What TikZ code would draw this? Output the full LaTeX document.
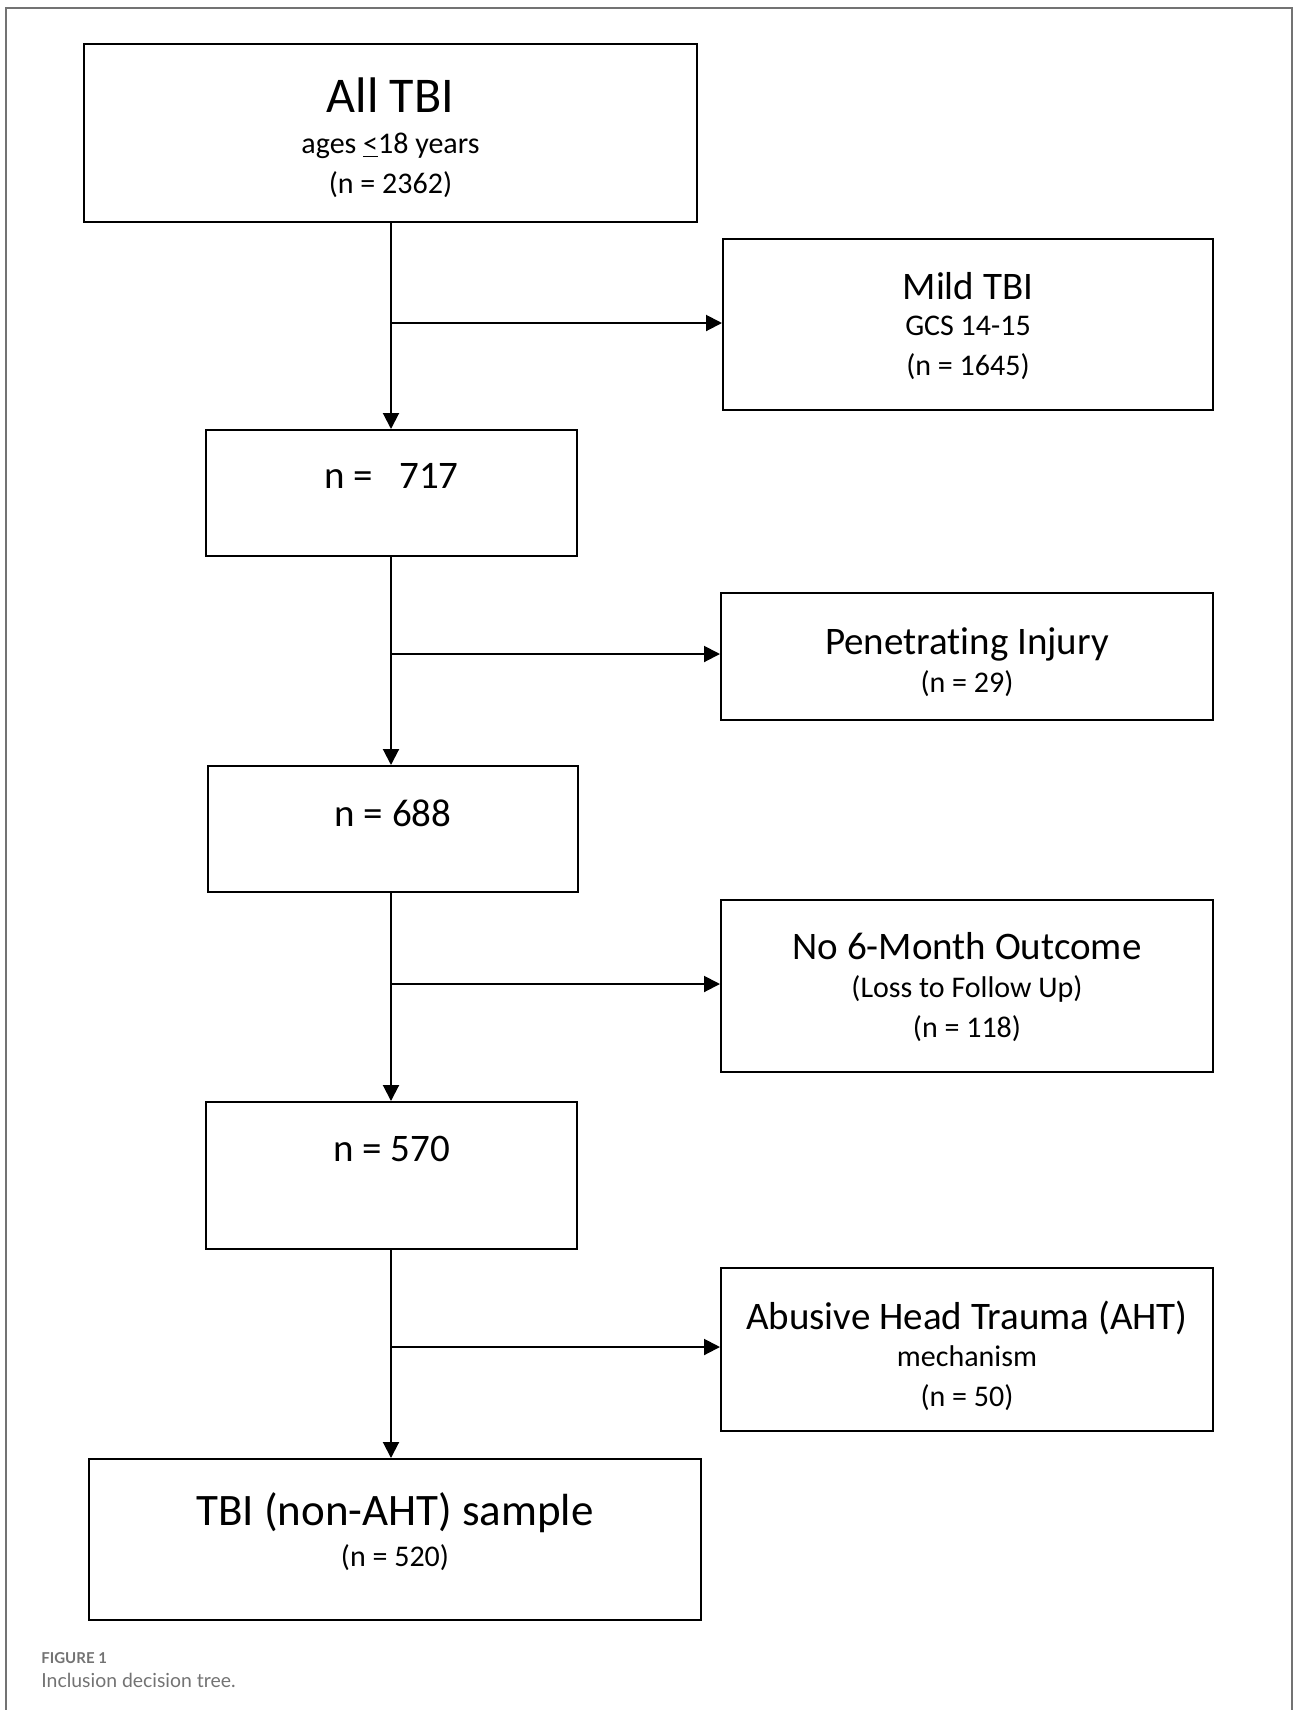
\documentclass[tikz,border=0pt]{standalone}
\usepackage{fontspec}
\setmainfont{Carlito}[Ligatures=CommonOff]
\newfontfamily\capfont{Lato}
\usetikzlibrary{positioning,arrows.meta,calc}

\tikzset{
  boxnode/.style={draw, line width=1pt, rectangle, inner sep=0pt},
  boxtxt/.style={inner sep=0pt, align=center, font=\fontsize{15}{20}\selectfont},
  numtxt/.style={anchor=base, inner sep=0pt, font=\fontsize{19.5}{22}\selectfont},
  arrowline/.style={line width=1pt, -{Triangle[length=8pt,width=8pt]}}
}
\newcommand{\sidetitle}{\fontsize{19.5}{22}\selectfont}

\begin{document}
\begin{tikzpicture}[x=0.5pt,y=-0.5pt]
\useasboundingbox (0,0) rectangle (1293,1710);
% outer frame, open at the bottom
\draw[black!55, line width=1pt] (5.5,1710) -- (5.5,7.5) -- (1292,7.5) -- (1292,1710);

% main column
\node[boxnode, minimum width=306.5pt, minimum height=89pt] (all) at (390.5,133) {};
\node[boxtxt] (alltxt) at ([yshift=-2.4pt]all.center)
  {{\fontsize{25}{26}\selectfont All TBI}\\[0.2pt] ages \underline{<}18 years\\ (n = 2362)};
\node[boxnode, minimum width=185.5pt, minimum height=63pt] (b717) at (391.5,493) {};
\node[numtxt] (t717) at ([yshift=-29.5pt]b717.north) {n =\ \ \ 717};
\node[boxnode, minimum width=185pt, minimum height=63pt] (b688) at (393,829) {};
\node[numtxt] (t688) at ([yshift=-30.5pt]b688.north) {n = 688};
\node[boxnode, minimum width=185.5pt, minimum height=73.5pt] (b570) at (391.5,1175.5) {};
\node[numtxt] (t570) at ([yshift=-30pt]b570.north) {n = 570};
\node[boxnode, minimum width=306pt, minimum height=80.5pt] (sample) at (395,1539.5) {};
\node[boxtxt] (sampletxt) at ([yshift=4pt]sample.center)
  {{\fontsize{22.5}{24}\selectfont TBI (non-AHT) sample}\\[0.4pt] (n = 520)};

% excluded boxes
\node[boxnode, minimum width=245pt, minimum height=85.5pt] (mild) at (968,324.5) {};
\node[boxtxt] (mildtxt) at ([yshift=-0.8pt]mild.center)
  {{\sidetitle Mild TBI}\\[-1.6pt] GCS 14-15\\ (n = 1645)};
\node[boxnode, minimum width=246pt, minimum height=63.5pt] (pen) at (967,656.5) {};
\node[boxtxt] (pentxt) at ([yshift=-2.7pt]pen.center)
  {{\sidetitle Penetrating Injury}\\[-1.1pt] (n = 29)};
\node[boxnode, minimum width=246pt, minimum height=86pt] (nofu) at (967,986) {};
\node[boxtxt] (nofutxt) at ([yshift=-0.5pt]nofu.center)
  {{\sidetitle No 6-Month Outcome}\\[-1.1pt] (Loss to Follow Up)\\ (n = 118)};
\node[boxnode, minimum width=246pt, minimum height=81.5pt] (aht) at (967,1349.5) {};
\node[boxtxt] (ahttxt) at ([yshift=-3pt]aht.center)
  {{\sidetitle Abusive Head Trauma (AHT)}\\[-1.6pt] mechanism\\ (n = 50)};

% junctions on the column
\coordinate (j1) at (391,323);
\coordinate (j2) at (391,654);
\coordinate (j3) at (391,984);
\coordinate (j4) at (391,1347);

\draw[arrowline] (all.south -| j1) -- (b717.north -| j1);
\draw[arrowline] (b717.south -| j1) -- (b688.north -| j1);
\draw[arrowline] (b688.south -| j1) -- (b570.north -| j1);
\draw[arrowline] (b570.south -| j1) -- (sample.north -| j1);

\draw[arrowline] (j1) -- (j1 -| mild.west);
\draw[arrowline] (j2) -- (j2 -| pen.west);
\draw[arrowline] (j3) -- (j3 -| nofu.west);
\draw[arrowline] (j4) -- (j4 -| aht.west);

% caption
\node[anchor=base west, inner sep=0pt, text=black!55, font=\capfont\bfseries\fontsize{7.5}{9}\selectfont] (figlbl) at (41,1663) {FIGURE 1};
\node[anchor=base west, inner sep=0pt, text=black!55, font=\capfont\fontsize{9.7}{11}\selectfont] (figcap) at (41,1687) {Inclusion decision tree.};
\end{tikzpicture}
\end{document}
